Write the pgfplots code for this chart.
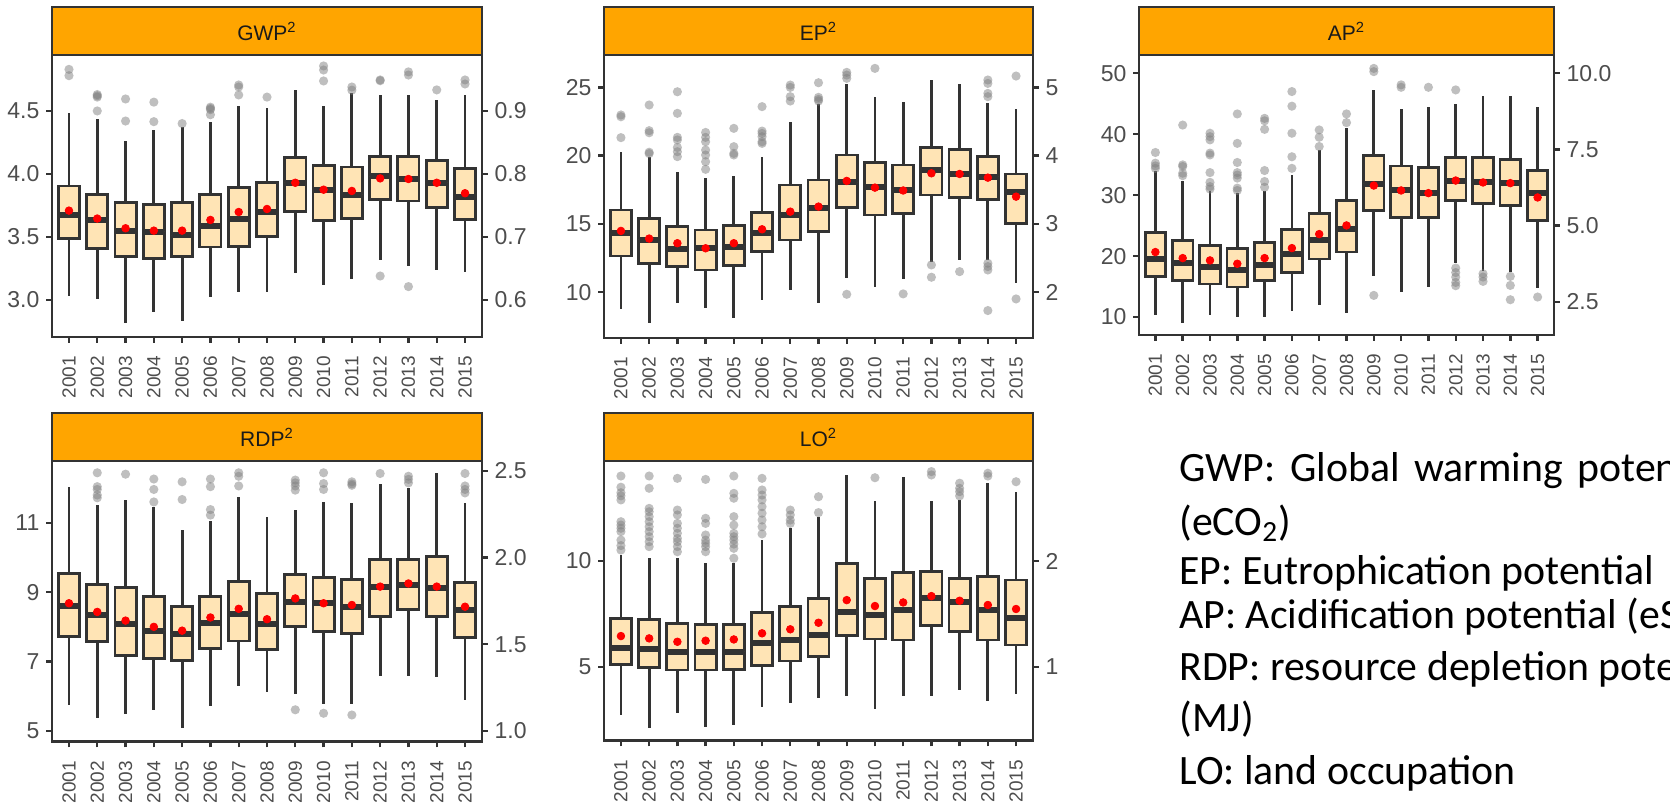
\documentclass[border=0pt]{standalone}
\usepackage{pgfplots}
\pgfplotsset{compat=1.18}
\usepgfplotslibrary{statistics}
\usepackage{fontspec}
\setmainfont{Liberation Sans}
\newfontfamily\carlito{Carlito}
\definecolor{dk}{HTML}{333333}
\definecolor{moc}{HTML}{FFE4B5}
\definecolor{stripc}{HTML}{FFA500}
\definecolor{tc}{HTML}{4D4D4D}
\definecolor{st}{HTML}{1A1A1A}
\pgfplotsset{
  /pgf/number format/assume math mode=true,
  panel/.style={scale only axis, anchor=south west, xmin=0.4, xmax=15.6,
    axis line style={draw=dk, line width=1.3pt},
    tick style={draw=dk, line width=1.2pt},
    tick align=outside, major tick length=2.8pt,
    xtick={1,...,15},
    xticklabels={2001,2002,2003,2004,2005,2006,2007,2008,2009,2010,2011,2012,2013,2014,2015},
    xtick pos=bottom, ytick pos=left,
    x tick label style={rotate=90, anchor=east, font=\fontsize{9.5}{10}\selectfont, text=tc, outer sep=3.5pt},
    y tick label style={font=\fontsize{11.5}{12}\selectfont, text=tc}},
  rpanel/.style={scale only axis, anchor=south west, xmin=0.4, xmax=15.6,
    axis x line=none, axis y line*=right,
    axis line style={draw=dk, line width=1.3pt},
    tick style={draw=dk, line width=1.2pt},
    tick align=outside, major tick length=2.8pt,
    y tick label style={font=\fontsize{11.5}{12}\selectfont, text=tc}},
  zf/.style={yticklabel style={/pgf/number format/.cd, fixed, fixed zerofill, precision=1}},
  bxs/.style={draw=dk, fill=moc, line width=1.4pt, solid, mark=none,
    boxplot/draw direction=y,
    boxplot/box extend=0.75, boxplot/whisker extend=0,
    boxplot/every median/.style={line width=3pt}},
  outl/.style={only marks, mark=*, mark size=2.3pt, mark options={fill=black!50, fill opacity=0.5, draw opacity=0}},
  mn/.style={only marks, mark=*, mark size=1.9pt, mark options={draw=red, fill=red}},
}
\newcommand{\bx}[6]{\addplot[bxs, boxplot prepared={draw position=#1, lower whisker=#2, lower quartile=#3, median=#4, upper quartile=#5, upper whisker=#6}] coordinates {};}
\newcommand{\strip}[2]{%
  \draw[draw=dk, line width=1.3pt, fill=stripc] (#1.north west) rectangle ([yshift=24pt]#1.north east);
  \node[text=st, font=\fontsize{10.5}{12}\selectfont] at ([yshift=12pt]#1.north) {#2};}
\begin{document}
\begin{tikzpicture}
% ---------------- GWP ----------------
\begin{axis}[panel, zf, name=gwp, at={(26pt,-168.5pt)}, width=215pt, height=141pt,
  ymin=2.706, ymax=4.944, ytick={3,3.5,4,4.5}]
\bx{1}{3.03}{3.49}{3.675}{3.905}{4.48}
\bx{2}{3.01}{3.41}{3.635}{3.84}{4.44}
\bx{3}{2.815}{3.345}{3.55}{3.775}{4.265}
\bx{4}{2.905}{3.33}{3.54}{3.755}{4.35}
\bx{5}{2.835}{3.345}{3.515}{3.775}{4.37}
\bx{6}{3.02}{3.42}{3.59}{3.835}{4.415}
\bx{7}{3.06}{3.425}{3.64}{3.89}{4.54}
\bx{8}{3.06}{3.505}{3.695}{3.935}{4.52}
\bx{9}{3.21}{3.70}{3.93}{4.13}{4.67}
\bx{10}{3.12}{3.63}{3.875}{4.07}{4.54}
\bx{11}{3.17}{3.645}{3.835}{4.055}{4.64}
\bx{12}{3.315}{3.795}{3.98}{4.14}{4.63}
\bx{13}{3.27}{3.785}{3.96}{4.14}{4.63}
\bx{14}{3.24}{3.735}{3.93}{4.105}{4.585}
\bx{15}{3.225}{3.64}{3.82}{4.045}{4.63}
\addplot[outl] coordinates {(1,4.83)(1,4.78)(2,4.63)(2,4.62)(2,4.61)(2,4.50)(3,4.595)(3,4.42)(4,4.57)(4,4.415)(5,4.40)(6,4.53)(6,4.52)(6,4.51)(6,4.47)(7,4.706)(7,4.69)(7,4.627)(8,4.61)(10,4.857)(10,4.825)(10,4.738)(11,4.69)(11,4.665)(12,4.746)(12,4.74)(12,3.19)(13,4.81)(13,4.785)(13,3.106)(14,4.667)(15,4.746)(15,4.714)};
\addplot[mn] coordinates {(1,3.709)(2,3.646)(3,3.569)(4,3.55)(5,3.55)(6,3.635)(7,3.698)(8,3.722)(9,3.93)(10,3.875)(11,3.865)(12,3.965)(13,3.96)(14,3.93)(15,3.847)};
\end{axis}
\begin{axis}[rpanel, zf, at={(26pt,-168.5pt)}, width=215pt, height=141pt,
  ymin=0.5412, ymax=0.9888, ytick={0.6,0.7,0.8,0.9}]
\end{axis}
\strip{gwp}{GWP\textsuperscript{2}}
% ---------------- EP ----------------
\begin{axis}[panel, name=ep, at={(302pt,-169pt)}, width=214.5pt, height=141.5pt,
  ymin=6.65, ymax=27.37, ytick={10,15,20,25}]
\bx{1}{8.76}{12.66}{14.32}{16.02}{20.29}
\bx{2}{7.73}{12.12}{13.83}{15.41}{19.9}
\bx{3}{9.24}{11.88}{13.15}{14.80}{18.83}
\bx{4}{8.83}{11.63}{13.22}{14.56}{18.34}
\bx{5}{8.10}{11.95}{13.34}{14.88}{18.54}
\bx{6}{9.44}{12.98}{14.32}{15.85}{19.93}
\bx{7}{10.17}{13.83}{15.66}{17.85}{22.49}
\bx{8}{9.20}{14.44}{16.15}{18.22}{23.8}
\bx{9}{11.02}{16.22}{18.05}{20.05}{25.24}
\bx{10}{10.41}{15.66}{17.73}{19.51}{24.32}
\bx{11}{10.95}{15.78}{17.5}{19.32}{23.95}
\bx{12}{12.24}{17.12}{18.95}{20.61}{25.54}
\bx{13}{12.37}{16.93}{18.66}{20.46}{25.24}
\bx{14}{12.37}{16.80}{18.46}{19.93}{23.83}
\bx{15}{10.66}{15.05}{17.32}{18.66}{23.39}
\addplot[outl] coordinates {(1,22.98)(1,22.85)(1,21.32)(2,23.71)(2,21.83)(2,21.68)(2,20.25)(2,20.15)(3,24.68)(3,23.1)(3,21.34)(3,21.15)(3,20.6)(3,20.29)(3,19.93)(4,21.7)(4,21.34)(4,21.02)(4,20.41)(4,20.05)(4,19.56)(4,19.0)(5,22.0)(5,20.66)(5,20.17)(5,20.05)(6,23.59)(6,21.8)(6,21.63)(6,21.39)(6,21.02)(6,20.9)(7,25.17)(7,25.0)(7,24.32)(7,24.0)(8,25.34)(8,24.27)(8,24.12)(8,24.0)(9,26.1)(9,25.9)(9,25.66)(9,9.85)(10,26.39)(11,9.88)(12,12.0)(12,11.1)(13,11.51)(14,25.54)(14,25.29)(14,24.56)(14,24.32)(14,12.12)(14,11.88)(14,11.63)(14,8.66)(15,25.83)(15,9.51)};
\addplot[mn] coordinates {(1,14.49)(2,13.93)(3,13.59)(4,13.22)(5,13.59)(6,14.61)(7,15.9)(8,16.27)(9,18.15)(10,17.66)(11,17.45)(12,18.71)(13,18.66)(14,18.39)(15,17.0)};
\end{axis}
\begin{axis}[rpanel, at={(302pt,-169pt)}, width=214.5pt, height=141.5pt,
  ymin=1.33, ymax=5.474, ytick={2,3,4,5}]
\end{axis}
\strip{ep}{EP\textsuperscript{2}}
% ---------------- AP ----------------
\begin{axis}[panel, name=ap, at={(569.5pt,-167.5pt)}, width=207.5pt, height=140pt,
  ymin=7.05, ymax=53.0, ytick={10,20,30,40,50}]
\bx{1}{10.38}{16.67}{19.51}{23.88}{34.0}
\bx{2}{9.02}{15.96}{18.85}{22.57}{32.3}
\bx{3}{10.38}{15.41}{18.2}{21.75}{30.6}
\bx{4}{10.0}{14.92}{17.76}{21.3}{30.3}
\bx{5}{10.0}{16.01}{18.58}{22.24}{30.7}
\bx{6}{10.93}{17.32}{20.38}{24.32}{33.33}
\bx{7}{12.02}{19.51}{22.57}{26.94}{37.43}
\bx{8}{10.66}{20.66}{24.48}{29.13}{40.98}
\bx{9}{16.78}{27.49}{31.86}{36.45}{47.27}
\bx{10}{14.1}{26.34}{30.77}{34.8}{44.1}
\bx{11}{14.92}{26.34}{30.33}{34.6}{44.54}
\bx{12}{18.85}{29.07}{32.4}{36.17}{44.97}
\bx{13}{17.49}{28.58}{32.08}{36.17}{46.28}
\bx{14}{17.32}{28.25}{31.97}{35.8}{46.28}
\bx{15}{14.75}{25.79}{30.33}{34.04}{44.54}
\addplot[outl] coordinates {(1,37.0)(1,35.25)(1,34.8)(1,34.4)(2,41.5)(2,34.97)(2,34.7)(2,33.6)(2,33.2)(3,40.16)(3,39.6)(3,39.07)(3,36.9)(3,36.6)(3,33.7)(3,32.1)(3,31.4)(3,31.0)(4,43.33)(4,38.5)(4,35.36)(4,33.7)(4,33.3)(4,32.8)(4,31.15)(4,30.77)(5,42.6)(5,42.2)(5,40.8)(5,34.04)(5,32.24)(5,31.3)(6,47.0)(6,44.6)(6,40.16)(6,36.3)(6,34.4)(7,40.7)(7,39.5)(7,37.98)(8,43.33)(8,41.9)(9,50.8)(9,50.27)(9,13.55)(10,48.1)(10,47.7)(11,47.7)(12,47.27)(12,18.03)(12,17.3)(12,16.56)(12,15.68)(12,15.14)(13,17.1)(13,16.56)(13,15.85)(14,16.67)(14,15.19)(14,12.84)(15,13.28)};
\addplot[mn] coordinates {(1,20.66)(2,19.67)(3,19.29)(4,18.74)(5,19.67)(6,21.31)(7,23.61)(8,25.03)(9,31.58)(10,30.77)(11,30.33)(12,32.4)(13,32.08)(14,31.97)(15,29.62)};
\end{axis}
\begin{axis}[rpanel, zf, at={(569.5pt,-167.5pt)}, width=207.5pt, height=140pt,
  ymin=1.41, ymax=10.6, ytick={2.5,5,7.5,10}]
\end{axis}
\strip{ap}{AP\textsuperscript{2}}
% ---------------- RDP ----------------
\begin{axis}[panel, name=rdp, at={(26pt,-370.85pt)}, width=215pt, height=140.35pt,
  ymin=4.69, ymax=12.78, ytick={5,7,9,11}]
\bx{1}{5.75}{7.72}{8.6}{9.54}{12.04}
\bx{2}{5.37}{7.57}{8.34}{9.21}{11.5}
\bx{3}{5.49}{7.17}{8.08}{9.13}{11.67}
\bx{4}{5.61}{7.09}{7.89}{8.87}{11.44}
\bx{5}{5.08}{7.03}{7.79}{8.58}{10.79}
\bx{6}{5.72}{7.38}{8.10}{8.87}{11.06}
\bx{7}{6.30}{7.59}{8.37}{9.30}{11.73}
\bx{8}{6.11}{7.35}{8.08}{8.97}{11.17}
\bx{9}{6.07}{8.0}{8.71}{9.5}{11.36}
\bx{10}{5.78}{7.86}{8.70}{9.42}{11.6}
\bx{11}{5.78}{7.81}{8.58}{9.37}{11.58}
\bx{12}{6.59}{8.31}{9.14}{9.94}{12.13}
\bx{13}{6.59}{8.49}{9.21}{9.94}{12.0}
\bx{14}{6.55}{8.29}{9.11}{10.02}{12.42}
\bx{15}{5.89}{7.70}{8.49}{9.27}{11.56}
\addplot[outl] coordinates {(2,12.44)(2,12.04)(2,11.96)(2,11.8)(2,11.72)(3,12.4)(4,12.26)(4,11.96)(4,11.6)(5,12.18)(5,11.67)(6,12.26)(6,12.04)(6,11.38)(6,11.22)(7,12.44)(7,12.34)(7,12.06)(9,12.23)(9,12.15)(9,12.06)(9,11.94)(9,5.61)(10,12.44)(10,12.13)(10,11.96)(10,5.51)(11,12.18)(11,12.08)(11,12.12)(11,5.46)(12,12.42)(13,12.34)(13,12.25)(13,12.15)(15,12.42)(15,12.06)(15,11.96)(15,11.86)};
\addplot[mn] coordinates {(1,8.68)(2,8.43)(3,8.18)(4,8.0)(5,7.89)(6,8.27)(7,8.52)(8,8.22)(9,8.82)(10,8.68)(11,8.63)(12,9.16)(13,9.25)(14,9.16)(15,8.58)};
\end{axis}
\begin{axis}[rpanel, zf, at={(26pt,-370.85pt)}, width=215pt, height=140.35pt,
  ymin=0.938, ymax=2.556, ytick={1,1.5,2,2.5}]
\end{axis}
\strip{rdp}{RDP\textsuperscript{2}}
% ---------------- LO ----------------
\begin{axis}[panel, name=lo, at={(302pt,-370.35pt)}, width=214.5pt, height=139.85pt,
  ymin=1.5, ymax=14.73, ytick={5,10}]
\bx{1}{2.71}{5.11}{5.87}{7.29}{10.3}
\bx{2}{2.08}{4.97}{5.82}{7.24}{10.13}
\bx{3}{2.79}{4.84}{5.68}{7.05}{10.13}
\bx{4}{2.13}{4.84}{5.68}{7.0}{9.92}
\bx{5}{2.24}{4.87}{5.71}{7.0}{9.89}
\bx{6}{3.11}{5.05}{6.14}{7.57}{10.99}
\bx{7}{3.30}{5.27}{6.26}{7.84}{11.55}
\bx{8}{3.53}{5.5}{6.5}{8.23}{12.1}
\bx{9}{3.61}{6.47}{7.6}{9.89}{14.07}
\bx{10}{3.0}{6.31}{7.44}{9.18}{12.84}
\bx{11}{3.61}{6.26}{7.68}{9.45}{13.99}
\bx{12}{3.63}{6.94}{8.26}{9.5}{12.85}
\bx{13}{3.9}{6.66}{8.04}{9.18}{12.89}
\bx{14}{3.38}{6.26}{7.68}{9.26}{13.68}
\bx{15}{3.71}{6.03}{7.29}{9.1}{13.28}
\addplot[outl] coordinates {(1,14.02)(1,13.49)(1,13.23)(1,13.08)(1,12.89)(1,11.86)(1,11.7)(1,11.55)(1,11.39)(1,10.99)(1,10.73)(1,10.52)(2,14.02)(2,13.44)(2,12.49)(2,12.33)(2,12.1)(2,11.86)(2,11.62)(2,11.39)(2,11.15)(2,10.91)(2,10.68)(3,13.91)(3,12.41)(3,12.18)(3,11.78)(3,11.55)(3,11.31)(3,11.07)(3,10.91)(3,10.68)(3,10.44)(4,13.86)(4,12.02)(4,11.78)(4,11.23)(4,10.99)(4,10.84)(4,10.68)(4,10.44)(5,14.02)(5,13.2)(5,12.97)(5,12.1)(5,11.7)(5,11.31)(5,11.15)(5,10.99)(5,10.8)(5,10.6)(5,10.13)(6,13.91)(6,13.36)(6,13.12)(6,12.89)(6,12.57)(6,12.26)(6,11.94)(6,11.62)(6,11.28)(7,12.41)(7,12.18)(7,11.94)(7,11.78)(8,13.04)(8,12.29)(10,13.94)(12,14.23)(12,14.07)(13,13.68)(13,13.44)(13,13.28)(13,13.08)(14,14.15)(14,14.02)(15,13.75)};
\addplot[mn] coordinates {(1,6.45)(2,6.34)(3,6.18)(4,6.23)(5,6.29)(6,6.58)(7,6.77)(8,7.08)(9,8.15)(10,7.87)(11,8.04)(12,8.34)(13,8.12)(14,7.92)(15,7.73)};
\end{axis}
\begin{axis}[rpanel, at={(302pt,-370.35pt)}, width=214.5pt, height=139.85pt,
  ymin=0.3, ymax=2.946, ytick={1,2}]
\end{axis}
\strip{lo}{LO\textsuperscript{2}}
% ---------------- text ----------------
\begin{scope}
\clip (0,0) rectangle (835pt,-401.5pt);
\begin{scope}[every node/.style={anchor=base west, inner sep=0pt, font=\carlito\fontsize{20.9}{24}\selectfont, text=black}]
\node at (589.5pt,-240.5pt) {GWP:\hspace{7.3pt}Global\hspace{7.3pt}warming\hspace{7.3pt}potential};
\node at (589.5pt,-267.5pt) {(eCO\textsubscript{2})};
\node at (589.5pt,-292pt) {EP: Eutrophication potential};
\node at (589.5pt,-314pt) {AP: Acidification potential (eSO\textsubscript{2})};
\node at (589.5pt,-340pt) {RDP: resource depletion potential};
\node at (589.5pt,-365.5pt) {(MJ)};
\node at (589.5pt,-392pt) {LO: land occupation};
\end{scope}
\end{scope}
\pgfresetboundingbox
\path[use as bounding box] (0,0) rectangle (835pt,-401.5pt);
\end{tikzpicture}
\end{document}
